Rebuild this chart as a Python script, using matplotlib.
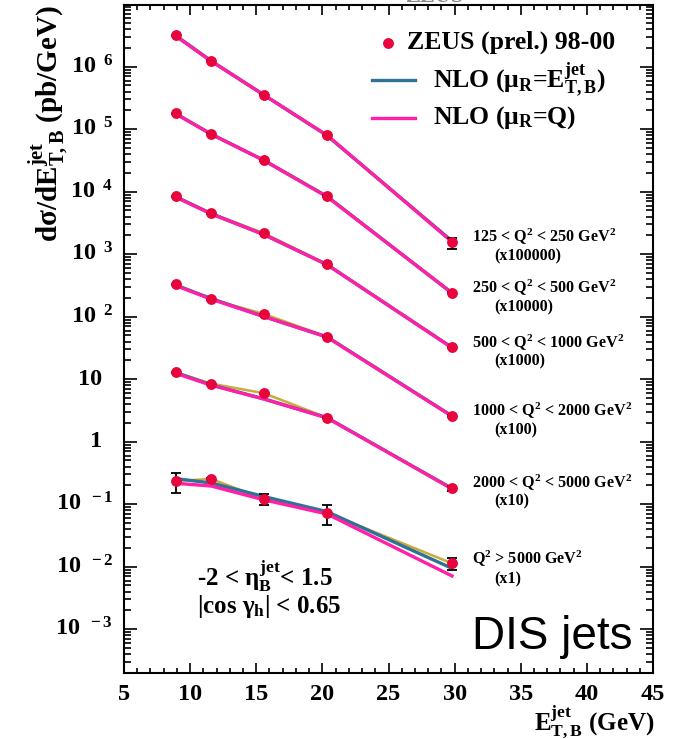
import numpy as np
import matplotlib
matplotlib.use("Agg")
import matplotlib.pyplot as plt
from matplotlib.ticker import LogLocator, MultipleLocator, NullFormatter
from matplotlib.transforms import blended_transform_factory

plt.rcParams["font.family"] = ["Liberation Serif", "DejaVu Serif"]
plt.rcParams["font.weight"] = "bold"
plt.rcParams["mathtext.fontset"] = "custom"
plt.rcParams["mathtext.rm"] = "Liberation Serif:bold"
plt.rcParams["mathtext.it"] = "Liberation Serif:bold"
plt.rcParams["mathtext.bf"] = "Liberation Serif:bold"

# bin centres in E_T (GeV)
et_centres = [8.9, 11.6, 15.6, 20.35, 29.8]

q2_bins = [r"125 < Q$^2$ < 250 GeV$^2$",
           r"250 < Q$^2$ < 500 GeV$^2$",
           r"500 < Q$^2$ < 1000 GeV$^2$",
           r"1000 < Q$^2$ < 2000 GeV$^2$",
           r"2000 < Q$^2$ < 5000 GeV$^2$",
           r"Q$^2$ > 5000 GeV$^2$"]
scale_text = ["(x100000)", "(x10000)", "(x1000)", "(x100)", "(x10)", "(x1)"]
scales = [1e5, 1e4, 1e3, 1e2, 10, 1]

# ZEUS (prel.) 98-00, pb/GeV, unscaled
zeus_xsec = [[32.0, 12.5, 3.57, 0.80, 0.0155],
             [18.0, 8.4, 3.2, 0.85, 0.0242],
             [8.5, 4.5, 2.16, 0.689, 0.0324],
             [3.3, 1.9, 1.1, 0.479, 0.0258],
             [1.29, 0.847, 0.594, 0.242, 0.018],
             [0.235, 0.253, 0.121, 0.073, 0.0113]]
zeus_err_up = [[0.6, 0.25, 0.07, 0.02, 0.0029],
               [0.3, 0.15, 0.06, 0.02, 0.0006],
               [0.15, 0.08, 0.05, 0.015, 0.0008],
               [0.06, 0.04, 0.02, 0.01, 0.0008],
               [0.03, 0.02, 0.015, 0.006, 0.0018],
               [0.084, 0.012, 0.027, 0.025, 0.0027]]
zeus_err_dn = [[0.6, 0.25, 0.07, 0.02, 0.0034],
               [0.3, 0.15, 0.06, 0.02, 0.0006],
               [0.15, 0.08, 0.05, 0.015, 0.0008],
               [0.06, 0.04, 0.02, 0.01, 0.0008],
               [0.03, 0.02, 0.015, 0.006, 0.0018],
               [0.082, 0.012, 0.023, 0.026, 0.0025]]

# NLO, mu_R = E_T,B
nlo_et = [[31.5, 12.3, 3.5, 0.79, 0.0162],
          [17.8, 8.3, 3.15, 0.84, 0.0238],
          [8.3, 4.45, 2.05, 0.68, 0.0320],
          [3.2, 1.95, 1.0, 0.475, 0.0258],
          [1.28, 0.81, 0.482, 0.242, 0.0178],
          [0.256, 0.218, 0.132, 0.0759, 0.0094]]
# NLO, mu_R = Q
nlo_q = [[31.0, 12.2, 3.5, 0.80, 0.0158],
         [17.6, 8.3, 3.15, 0.83, 0.0240],
         [8.2, 4.4, 2.05, 0.68, 0.0318],
         [3.15, 1.9, 1.0, 0.47, 0.0255],
         [1.24, 0.80, 0.48, 0.240, 0.0176],
         [0.216, 0.195, 0.117, 0.0697, 0.0071]]

decades = [1e-3, 1e-2, 1e-1, 1, 10, 1e2, 1e3, 1e4, 1e5, 1e6]
ylabels = [r"$10^{\;\;-3}$", r"$10^{\;\;-2}$", r"$10^{\;\;-1}$", "1", "10",
           r"$10^{\;\;2}$", r"$10^{\;\;3}$", r"$10^{\;\;4}$", r"$10^{\;\;5}$",
           r"$10^{\;\;6}$"]

red = "#e8043c"
teal = "#2f7296"
pink = "#ff1fa8"
gold = "#c9aa3c"

W, H = 683, 739
fig = plt.figure(figsize=(W / 100, H / 100), dpi=100)
x0, x1, ytop, ybot = 124, 653, 5, 672.7
ax = fig.add_axes([x0 / W, 1 - ybot / H, (x1 - x0) / W, (ybot - ytop) / H])

for i in range(6):
    s = scales[i]
    y = np.array(zeus_xsec[i]) * s
    ax.plot(et_centres, y, color=gold, lw=1.8, zorder=2)
    ax.plot(et_centres, np.array(nlo_et[i]) * s, color=teal, lw=2.4, zorder=3)
    ax.plot(et_centres, np.array(nlo_q[i]) * s, color=pink, lw=2.4, zorder=4)
    ax.errorbar(et_centres, y,
                yerr=[np.array(zeus_err_dn[i]) * s, np.array(zeus_err_up[i]) * s],
                fmt="none", ecolor="black", elinewidth=1.3, capsize=3.5,
                capthick=1.3, zorder=5)
    ax.plot(et_centres, y, "o", color=red, mec=red, ms=6.8, zorder=6)

ax.set_yscale("log")
ax.set_xlim(5, 45)
ax.set_ylim(2.01e-4, 9.7e6)

ax.set_yticks(decades)
ax.set_yticklabels([])
ax.yaxis.set_minor_locator(LogLocator(base=10, subs=np.arange(2, 10), numticks=100))
ax.yaxis.set_minor_formatter(NullFormatter())
ax.xaxis.set_major_locator(MultipleLocator(5))
ax.xaxis.set_minor_locator(MultipleLocator(1))

ax.tick_params(which="both", direction="in", top=True, right=True, width=1.2)
ax.tick_params(axis="y", which="major", length=9.4)
ax.tick_params(axis="y", which="minor", length=4.8)
ax.tick_params(axis="x", which="major", length=7.5, pad=8, labelsize=17.5)
ax.tick_params(axis="x", which="minor", length=3.8)
for sp in ax.spines.values():
    sp.set_linewidth(1.5)

# y tick labels, ROOT style: plain numbers sit left of the exponent column
ytr = blended_transform_factory(fig.transFigure, ax.transData)
for d, lab in zip(decades, ylabels):
    xr = 113 if "^" in lab else 102
    ax.text(xr / W, d, lab, transform=ytr, ha="right", va="center",
            fontsize=17.5, clip_on=False)

# axis titles
fig.text(48 / W, 1 - 5 / H, r"d$\sigma$/dE$^{jet}_{T,B}$ (pb/GeV)", rotation=90,
         ha="center", va="top", fontsize=21)
fig.text(655 / W, 1 - 722 / H, r"E$^{jet}_{T,B}$ (GeV)", ha="right", va="center",
         fontsize=18)

# legend
def axf(px, py):
    return (px - x0) / (x1 - x0), (ybot - py) / (ybot - ytop)

mx, my = axf(388, 42.7)
ax.plot([mx], [my], "o", color=red, mec=red, ms=6.8, transform=ax.transAxes,
        clip_on=False)
tx, ty = axf(407, 42.7)
ax.text(tx, ty, "ZEUS (prel.) 98-00", transform=ax.transAxes, ha="left",
        va="center", fontsize=18.5)
for col, py, lab in [(teal, 80, r"NLO ($\mu_R$=E$^{jet}_{T,B}$)"),
                     (pink, 117.7, r"NLO ($\mu_R$=Q)")]:
    ax1, ay = axf(372, py)
    ax2, _ = axf(415, py)
    ax.plot([ax1, ax2], [ay, ay], color=col, lw=2.4, transform=ax.transAxes)
    lx, _ = axf(433, py)
    ax.text(lx, ay, lab, transform=ax.transAxes, ha="left", va="center",
            fontsize=18.5)

# Q2 bin labels
label_y = [(236.7, 256.7), (288.3, 307.3), (342.7, 361.7),
           (411, 430), (483.3, 501.7), (559, 579)]
for lab, sc, (y1, y2) in zip(q2_bins, scale_text, label_y):
    a, b = axf(472.3, y1)
    ax.text(a, b, lab, transform=ax.transAxes, ha="left", va="center",
            fontsize=11.6)
    a, b = axf(494.3, y2)
    ax.text(a, b, sc, transform=ax.transAxes, ha="left", va="center",
            fontsize=11.6)

a, b = axf(197, 576.7)
ax.text(a, b, r"-2 < $\eta^{jet}_{B}$< 1.5", transform=ax.transAxes,
        ha="left", va="center", fontsize=18)
a, b = axf(197, 606.7)
ax.text(a, b, r"|cos $\gamma_h$| < 0.65", transform=ax.transAxes,
        ha="left", va="center", fontsize=18)
a, b = axf(632, 637)
ax.text(a, b, "DIS jets", transform=ax.transAxes, ha="right", va="center",
        fontsize=33, fontweight="normal", family="Liberation Sans")

# title cut off at the top edge
fig.text(435 / W, 1 - 2 / H, "ZEUS", ha="center", va="baseline",
         fontsize=16, color="#888888")

fig.savefig("out.png", dpi=100)
